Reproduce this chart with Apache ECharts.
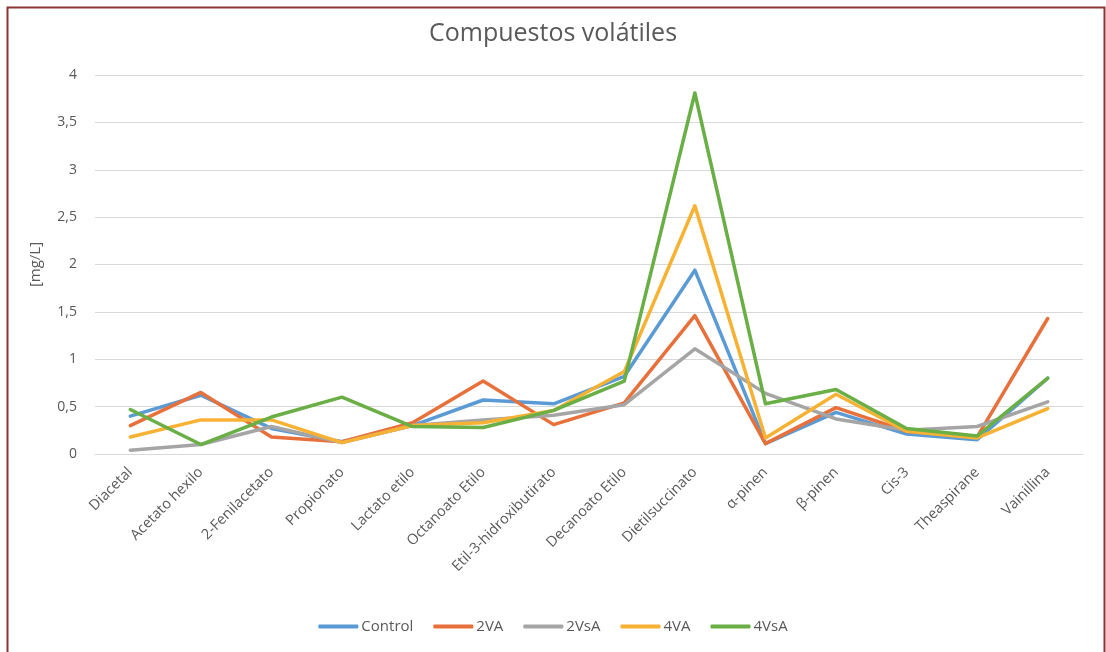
<!DOCTYPE html>
<html>
<head>
<meta charset="utf-8">
<script src="https://cdn.jsdelivr.net/npm/echarts@6/dist/echarts.min.js"></script>
<style>
html,body{margin:0;padding:0;background:#fff;}
#chart{width:1106px;height:652px;}
</style>
</head>
<body>
<div id="chart"></div>
<script>
const categories = ['Diacetal','Acetato hexilo','2-Fenilacetato','Propionato','Lactato etilo','Octanoato Etilo','Etil-3-hidroxibutirato','Decanoato Etilo','Dietilsuccinato','α-pinen','β-pinen','Cis-3','Theaspirane','Vainillina'];
const control = [0.40, 0.62, 0.27, 0.13, 0.30, 0.57, 0.53, 0.82, 1.94, 0.11, 0.44, 0.21, 0.15, 0.80];
const va2     = [0.30, 0.65, 0.18, 0.13, 0.33, 0.77, 0.31, 0.54, 1.46, 0.11, 0.49, 0.24, 0.18, 1.43];
const vsa2    = [0.04, 0.10, 0.29, 0.12, 0.30, 0.36, 0.41, 0.52, 1.11, 0.64, 0.37, 0.25, 0.29, 0.55];
const va4     = [0.18, 0.36, 0.36, 0.12, 0.30, 0.33, 0.46, 0.87, 2.62, 0.17, 0.63, 0.24, 0.17, 0.48];
const vsa4    = [0.47, 0.10, 0.39, 0.60, 0.29, 0.28, 0.46, 0.77, 3.81, 0.53, 0.68, 0.27, 0.19, 0.80];
const seriesNames = ['Control','2VA','2VsA','4VA','4VsA'];
const seriesData = [control, va2, vsa2, va4, vsa4];
const colors = ['#5B9BD5','#E8703A','#A5A5A5','#F7B234','#6AAF45'];

const chart = echarts.init(document.getElementById('chart'), null, {renderer:'canvas'});
const font = '"Open Sans", "Liberation Sans", sans-serif';
chart.setOption({
  animation:false,
  backgroundColor:'#fff',
  color: colors,
  textStyle:{fontFamily:font},
  title:{
    text:'Compuestos volátiles',
    left:'center', top:16,
    textStyle:{fontFamily:font, fontSize:25, fontWeight:'normal', color:'#595959'}
  },
  graphic:[{
    type:'rect', left:5, top:5,
    shape:{width:1097, height:660},
    style:{fill:'none', stroke:'#8E3434', lineWidth:2}
  }],
  legend:{
    bottom:13, left:'center',
    itemWidth:40, itemHeight:4, itemGap:20,
    icon:'roundRect',
    textStyle:{fontFamily:font, fontSize:15, color:'#595959', padding:[0,0,0,-2]},
    data: seriesNames
  },
  grid:{left:95, right:23, top:75, bottom:198, containLabel:false},
  xAxis:{
    type:'category', data:categories, boundaryGap:true,
    axisLine:{show:true, lineStyle:{color:'#D9D9D9', width:1}},
    axisTick:{show:false},
    axisLabel:{rotate:45, fontFamily:font, fontSize:14.5, color:'#595959', margin:16, interval:0}
  },
  yAxis:{
    type:'value', min:0, max:4, interval:0.5,
    name:'[mg/L]', nameLocation:'middle', nameGap:52, nameRotate:90,
    nameTextStyle:{fontFamily:font, fontSize:15, color:'#595959'},
    axisLine:{show:false}, axisTick:{show:false},
    splitLine:{lineStyle:{color:'#D9D9D9', width:1}},
    axisLabel:{fontFamily:font, fontSize:14, color:'#595959', margin:18,
      formatter:v => String(v).replace('.', ',')}
  },
  series: seriesNames.map((n,i)=>({
    name:n, type:'line', data:seriesData[i],
    showSymbol:false, symbol:'none',
    lineStyle:{width:3.5, color:colors[i], cap:'round', join:'round'},
    itemStyle:{color:colors[i]},
    z:2+i
  }))
});
</script>
</body>
</html>
